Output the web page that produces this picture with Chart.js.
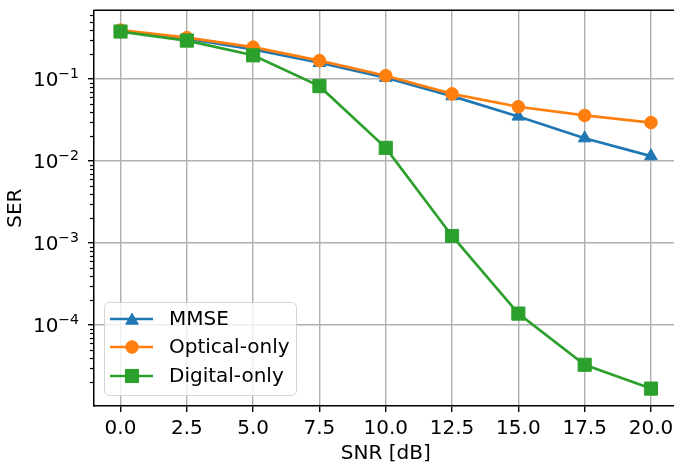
<!DOCTYPE html>
<html>
<head>
<meta charset="utf-8">
<script src="https://cdn.jsdelivr.net/npm/chart.js@4.4.1/dist/chart.umd.min.js"></script>
<style>
  html, body { margin: 0; padding: 0; background: #fff; overflow: hidden; }
  /* the reference figure is cut just before its right spine, so the canvas runs past the window */
  #wrap { width: 700px; height: 466px; }
</style>
</head>
<body>
<div id="wrap"><canvas id="serChart" width="700" height="466"></canvas></div>
<script>
// data
const snr = [0, 2.5, 5, 7.5, 10, 12.5, 15, 17.5, 20];
const serMmse = [0.385, 0.31, 0.23, 0.158, 0.104, 0.062, 0.035, 0.019, 0.0115];
const serOptical = [0.395, 0.32, 0.245, 0.168, 0.11, 0.066, 0.046, 0.036, 0.0295];
const serDigital = [0.38, 0.295, 0.195, 0.082, 0.0145, 0.00122, 0.000138, 0.0000328, 0.0000168];
const xTicks = [0, 2.5, 5, 7.5, 10, 12.5, 15, 17.5, 20];
const yTicks = [1e-4, 1e-3, 1e-2, 1e-1];
const yTickExp = ['−4', '−3', '−2', '−1'];
const seriesNames = ['MMSE', 'Optical-only', 'Digital-only'];

const FONT = 'DejaVu Sans';
const FS = 20;
const blue = '#1f77b4', orange = '#ff7f0e', green = '#2ca02c';

const toXY = (ys) => snr.map((x, i) => ({ x: x, y: ys[i] }));

// y tick labels (10 with superscript), minor ticks, top/right spines, in-axes legend
const extras = {
    id: 'extras',
    afterDraw(chart) {
        const ctx = chart.ctx;
        const y = chart.scales.y;
        const area = chart.chartArea;
        ctx.save();

        // y tick labels as 10^n
        ctx.fillStyle = '#000';
        ctx.textAlign = 'left';
        ctx.textBaseline = 'alphabetic';
        yTicks.forEach((v, i) => {
            const py = y.getPixelForValue(v);
            ctx.font = '14px "' + FONT + '"';
            const wSup = ctx.measureText(yTickExp[i]).width;
            ctx.font = FS + 'px "' + FONT + '"';
            const wBase = ctx.measureText('10').width;
            const right = area.left - 15;
            ctx.fillText('10', right - wSup - wBase, py + 7);
            ctx.font = '14px "' + FONT + '"';
            ctx.fillText(yTickExp[i], right - wSup, py - 1);
        });

        // minor ticks on the log axis
        ctx.strokeStyle = '#000';
        ctx.lineWidth = 1.2;
        for (let e = -6; e <= 0; e++) {
            for (let m = 2; m <= 9; m++) {
                const v = m * Math.pow(10, e);
                if (v < y.min || v > y.max) continue;
                const py = Math.round(y.getPixelForValue(v)) + 0.5;
                ctx.beginPath();
                ctx.moveTo(area.left, py);
                ctx.lineTo(area.left - 4, py);
                ctx.stroke();
            }
        }
        // top and right spines
        ctx.lineWidth = 1.5;
        ctx.beginPath();
        ctx.moveTo(area.left - 0.75, area.top);
        ctx.lineTo(area.right, area.top);
        ctx.lineTo(area.right, area.bottom);
        ctx.stroke();

        // legend box
        const bx = 104, by = 302, bw = 192, bh = 93, r = 5;
        ctx.globalAlpha = 0.8;
        ctx.fillStyle = '#fff';
        ctx.strokeStyle = '#cccccc';
        ctx.lineWidth = 1;
        ctx.beginPath();
        ctx.roundRect(bx + 0.5, by + 0.5, bw, bh, r);
        ctx.fill();
        ctx.stroke();
        ctx.globalAlpha = 1;

        const rows = [319, 347, 376];
        chart.data.datasets.forEach((ds, i) => {
            const ry = rows[i];
            ctx.strokeStyle = ds.borderColor;
            ctx.lineWidth = ds.borderWidth;
            ctx.beginPath();
            ctx.moveTo(110, ry);
            ctx.lineTo(153, ry);
            ctx.stroke();
            ctx.fillStyle = ds.pointBackgroundColor;
            ctx.strokeStyle = ds.pointBorderColor;
            ctx.lineWidth = ds.pointBorderWidth;
            Chart.helpers.drawPoint(ctx, {
                pointStyle: ds.pointStyle,
                rotation: 0,
                radius: ds.pointRadius,
                borderWidth: ds.pointBorderWidth
            }, 132, ry + (ds.pointStyle === 'triangle' ? 1.5 : 0));
            ctx.fillStyle = '#000';
            ctx.font = FS + 'px "' + FONT + '"';
            ctx.textBaseline = 'middle';
            ctx.textAlign = 'left';
            ctx.fillText(ds.label, 169, ry + 1);
        });
        ctx.restore();
    }
};

const makeSet = (label, ys, color, style, radius, order) => ({
    label: label,
    data: toXY(ys),
    borderColor: color,
    backgroundColor: color,
    pointBackgroundColor: color,
    pointBorderColor: color,
    pointBorderWidth: 1,
    pointStyle: style,
    pointRadius: radius,
    pointHoverRadius: radius,
    borderWidth: 2.7,
    tension: 0,
    order: order
});

new Chart(document.getElementById('serChart'), {
    type: 'line',
    data: {
        datasets: [
            makeSet(seriesNames[0], serMmse, blue, 'triangle', 7.3, 3),
            makeSet(seriesNames[1], serOptical, orange, 'circle', 6.3, 2),
            makeSet(seriesNames[2], serDigital, green, 'rect', 9.3, 1)
        ]
    },
    options: {
        responsive: false,
        animation: false,
        devicePixelRatio: 1,
        layout: { padding: { top: 7.7, right: 22.5, left: 0, bottom: 0 } },
        plugins: { legend: { display: false }, tooltip: { enabled: false } },
        scales: {
            x: {
                type: 'linear',
                min: -1,
                max: 21,
                afterBuildTicks: (s) => { s.ticks = xTicks.map(v => ({ value: v })); },
                afterFit: (s) => { s.height = 60; s.paddingLeft = 0; s.paddingRight = 0; },
                grid: { color: '#b0b0b0', lineWidth: 1.4, tickColor: '#000', tickLength: 6, tickWidth: 1.4 },
                border: { color: '#000', width: 1.5 },
                ticks: {
                    color: '#000', padding: 5, maxRotation: 0,
                    font: { family: FONT, size: FS },
                    callback: (v) => Number(v).toFixed(1)
                },
                title: {
                    display: true, text: 'SNR [dB]', color: '#000',
                    font: { family: FONT, size: FS }, padding: { top: 4, bottom: 0 }
                }
            },
            y: {
                type: 'logarithmic',
                min: 1.03e-5,
                max: 0.69,
                afterBuildTicks: (s) => { s.ticks = yTicks.map(v => ({ value: v })); },
                afterFit: (s) => { s.width = 94; s.paddingTop = 0; s.paddingBottom = 0; },
                grid: { color: '#b0b0b0', lineWidth: 1.4, tickColor: '#000', tickLength: 6, tickWidth: 1.4 },
                border: { color: '#000', width: 1.5 },
                ticks: {
                    color: '#000', padding: 5,
                    font: { family: FONT, size: 4 },
                    callback: () => ''   // drawn with superscripts in the plugin
                },
                title: {
                    display: true, text: 'SER', color: '#000',
                    font: { family: FONT, size: FS }, padding: { top: 4, bottom: 2 }
                }
            }
        }
    },
    plugins: [extras]
});
</script>
</body>
</html>
